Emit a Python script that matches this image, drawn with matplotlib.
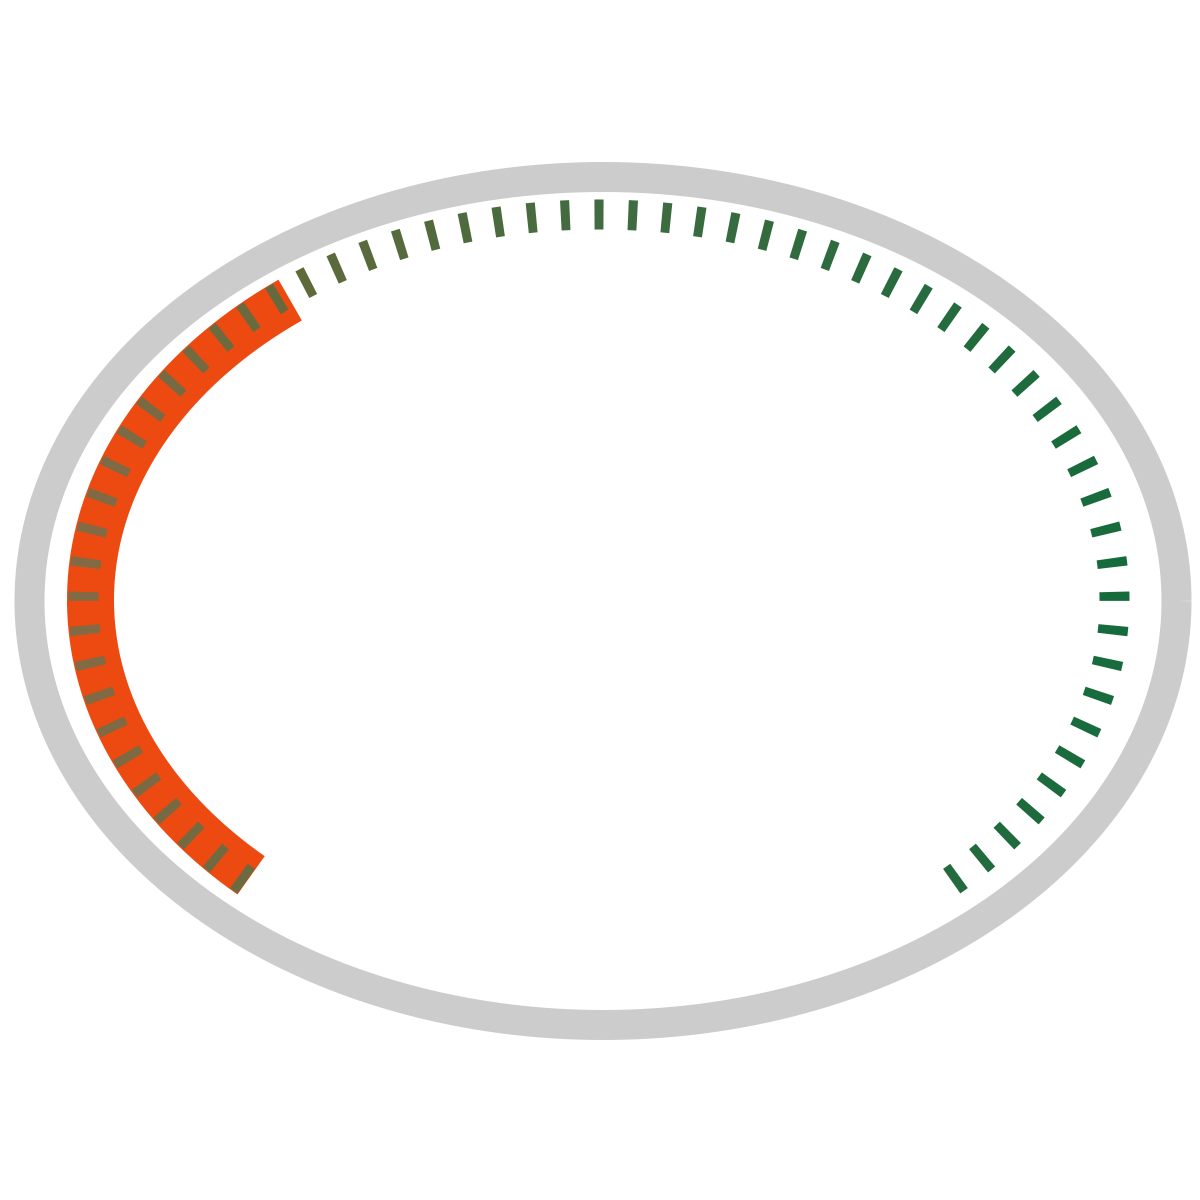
"""Elliptical gauge: grey rim, red value arc, dashed tick ring with olive-to-green gradient."""
import numpy as np
import matplotlib as mpl; mpl.use("Agg")
import matplotlib.pyplot as plt
from matplotlib.collections import LineCollection
from matplotlib.colors import LinearSegmentedColormap

# gauge data
GAUGE_MIN, GAUGE_MAX = 0, 100
GAUGE_VALUE = 34.4
N_TICKS = 63            # ticks shown (symmetric about the top)

# tick gradient anchors (left -> right)
TICK_STOPS = [0.0, 0.16, 0.22, 0.5, 1.0]
TICK_COLS = ["#846a45", "#6c6a40", "#5e6a3b", "#416b40", "#156b3c"]
C_RIM, C_VAL = "#cccccc", "#ec4a11"

PX = 72 / 100  # points per pixel at dpi 100
TICK_PERIOD, TICK_W = 33.7, 9.0  # px along the ellipse


def arc(cx, cy, a, b, t0, t1, n=4000):
    t = np.linspace(t0, t1, n); r = np.radians(t)
    x = cx + a * np.cos(r); y = cy - b * np.sin(r)
    s = np.concatenate([[0], np.cumsum(np.hypot(np.diff(x), np.diff(y)))])
    return x, y, s, t


fig = plt.figure(figsize=(12, 12), dpi=100)
ax = fig.add_axes([0, 0, 1, 1]); ax.set_xlim(0, 1200); ax.set_ylim(1200, 0); ax.axis("off")

# grey rim
x, y, _, _ = arc(603, 601, 573.5, 424, 0, 360)
ax.plot(x, y, color=C_RIM, lw=30 * PX, solid_capstyle="butt", zorder=1)

# tick ring: full ellipse from the bottom, clockwise; ticks symmetric about the top
tx, ty, ts, tt = arc(599, 600, 515.5, 385.5, 270, -90, 20000)
s_top = ts[-1] / 2; half = (N_TICKS - 1) // 2
centers = s_top + np.arange(-half, half + 1) * TICK_PERIOD
cmap = LinearSegmentedColormap.from_list("tick", list(zip(TICK_STOPS, TICK_COLS)))
segs, cols = [], []
for c in centers:
    ss = np.linspace(c - TICK_W / 2, c + TICK_W / 2, 6)
    px_, py_ = np.interp(ss, ts, tx), np.interp(ss, ts, ty)
    segs.append(np.column_stack([px_, py_]))
    cols.append(cmap(np.clip((px_.mean() - 68) / 1062, 0, 1)))

# gauge sweep starts at the outer edge of the first (bottom-left) tick
t_start = np.interp(centers[0] - TICK_W / 2, ts, tt)
t_end = 180 - t_start

# value arc (length proportional to value)
x, y, s, _ = arc(599, 600, 508.5, 377.5, t_start, t_end)
frac = (GAUGE_VALUE - GAUGE_MIN) / (GAUGE_MAX - GAUGE_MIN)
m = s <= frac * s[-1]
ax.plot(x[m], y[m], color=C_VAL, lw=47 * PX, solid_capstyle="butt", zorder=2)

ax.add_collection(LineCollection(segs, colors=cols, linewidths=30 * PX, capstyle="butt", zorder=3))

fig.savefig("out.png", dpi=100, facecolor="white")
